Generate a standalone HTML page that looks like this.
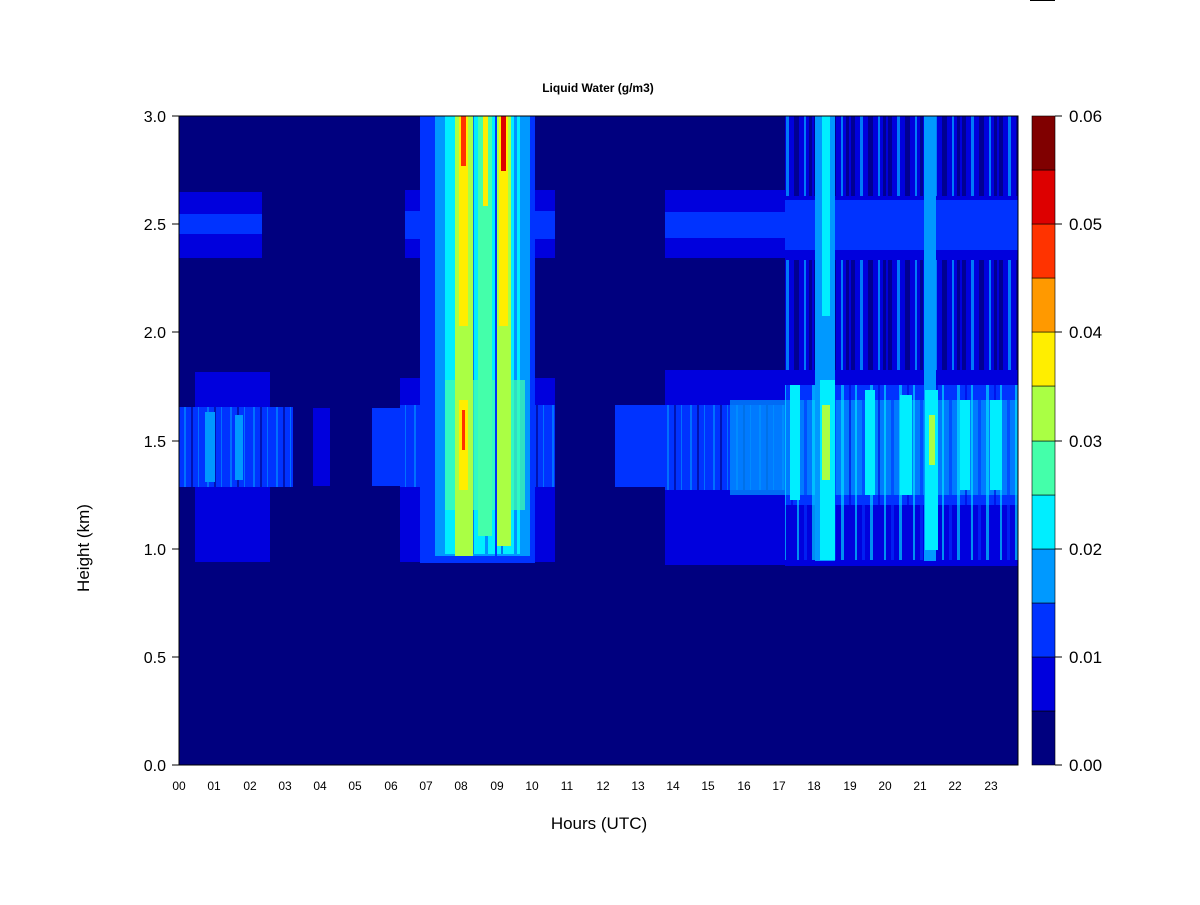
<!DOCTYPE html>
<html><head><meta charset="utf-8"><style>
body{margin:0;background:#fff;}
svg text{font-family:"Liberation Sans",Arial,sans-serif;}
</style></head><body>
<svg width="1200" height="900" viewBox="0 0 1200 900" xmlns="http://www.w3.org/2000/svg">
<defs>
<pattern id="st1" x="0" y="0" width="37" height="10" patternUnits="userSpaceOnUse">
<rect x="0" y="0" width="4" height="10" fill="#00007f"/>
<rect x="9" y="0" width="3" height="10" fill="#0099ff"/>
<rect x="17" y="0" width="5" height="10" fill="#00007f"/>
<rect x="27" y="0" width="2" height="10" fill="#0099ff"/>
<rect x="32" y="0" width="3" height="10" fill="#00007f"/>
</pattern>
<pattern id="st2" x="0" y="0" width="29" height="10" patternUnits="userSpaceOnUse">
<rect x="0" y="0" width="3" height="10" fill="#00eeff"/>
<rect x="8" y="0" width="2" height="10" fill="#0000dd"/>
<rect x="14" y="0" width="2" height="10" fill="#00eeff"/>
<rect x="21" y="0" width="3" height="10" fill="#0033ff"/>
</pattern>
<pattern id="st3" x="0" y="0" width="23" height="10" patternUnits="userSpaceOnUse">
<rect x="0" y="0" width="2" height="10" fill="#0099ff"/>
<rect x="7" y="0" width="2" height="10" fill="#00007f"/>
<rect x="14" y="0" width="1" height="10" fill="#0099ff"/>
</pattern>
</defs>
<rect width="1200" height="900" fill="#fff"/>
<rect x="1030" y="0" width="25" height="1" fill="#000"/>
<text x="598" y="92" font-size="12" font-weight="bold" text-anchor="middle">Liquid Water (g/m3)</text>
<clipPath id="c"><rect x="179" y="116" width="839" height="649"/></clipPath>
<g clip-path="url(#c)">
<rect x="179" y="116" width="839" height="649" fill="#00007f"/>
<!-- region A -->
<rect x="195" y="372" width="75" height="190" fill="#0000dd"/>
<rect x="179" y="407" width="114" height="80" fill="#0033ff"/>
<rect x="179" y="407" width="114" height="80" fill="url(#st3)" opacity="0.6"/>
<rect x="205" y="412" width="10" height="70" fill="#0099ff"/>
<rect x="235" y="415" width="8" height="65" fill="#0099ff"/>
<rect x="179" y="192" width="83" height="66" fill="#0000dd"/>
<rect x="179" y="214" width="83" height="20" fill="#0033ff"/>
<rect x="313" y="408" width="17" height="78" fill="#0000dd"/>
<!-- region B -->
<rect x="372" y="408" width="50" height="78" fill="#0033ff"/>
<rect x="400" y="378" width="155" height="184" fill="#0000dd"/>
<rect x="405" y="190" width="150" height="68" fill="#0000dd"/>
<rect x="405" y="211" width="150" height="28" fill="#0033ff"/>
<rect x="400" y="405" width="155" height="82" fill="#0033ff"/>
<rect x="400" y="405" width="155" height="82" fill="url(#st3)" opacity="0.6"/>
<rect x="420" y="116" width="115" height="447" fill="#0033ff"/>
<rect x="435" y="116" width="95" height="440" fill="#0099ff"/>
<rect x="445" y="116" width="75" height="438" fill="#00eeff"/>
<rect x="445" y="116" width="75" height="438" fill="url(#st2)" opacity="0.5"/>
<rect x="445" y="380" width="80" height="130" fill="#44ffaa" opacity="0.7"/>
<rect x="455" y="116" width="18" height="440" fill="#aaff44"/>
<rect x="478" y="116" width="14" height="420" fill="#44ffaa"/>
<rect x="497" y="116" width="14" height="430" fill="#aaff44"/>
<rect x="459" y="116" width="9" height="210" fill="#ffee00"/>
<rect x="459" y="400" width="9" height="90" fill="#ffee00"/>
<rect x="499" y="116" width="9" height="210" fill="#ffee00"/>
<rect x="483" y="116" width="5" height="90" fill="#ffee00"/>
<rect x="461" y="116" width="5" height="50" fill="#ff3300"/>
<rect x="501" y="116" width="5" height="55" fill="#dd0000"/>
<rect x="462" y="410" width="3" height="40" fill="#ff3300"/>
<rect x="495" y="116" width="2" height="440" fill="#0033ff"/>
<!-- region C -->
<rect x="615" y="405" width="403" height="82" fill="#0033ff"/>
<rect x="665" y="370" width="353" height="195" fill="#0000dd"/>
<rect x="665" y="405" width="353" height="85" fill="#0033ff"/>
<rect x="665" y="405" width="120" height="85" fill="url(#st3)" opacity="0.6"/>
<rect x="665" y="190" width="353" height="68" fill="#0000dd"/>
<rect x="665" y="212" width="353" height="26" fill="#0033ff"/>
<rect x="785" y="116" width="233" height="450" fill="#0000dd"/>
<rect x="785" y="116" width="233" height="80" fill="url(#st1)" opacity="0.8"/>
<rect x="785" y="260" width="233" height="110" fill="url(#st1)" opacity="0.8"/>
<rect x="785" y="200" width="233" height="50" fill="#0033ff"/>
<rect x="785" y="385" width="233" height="120" fill="#0033ff"/>
<rect x="730" y="400" width="288" height="95" fill="#0099ff" opacity="0.7"/>
<rect x="785" y="385" width="233" height="175" fill="url(#st2)" opacity="0.6"/>
<rect x="815" y="116" width="20" height="445" fill="#0099ff"/>
<rect x="924" y="116" width="12" height="445" fill="#0099ff"/>
<rect x="790" y="385" width="10" height="115" fill="#00eeff"/>
<rect x="820" y="380" width="15" height="180" fill="#00eeff"/>
<rect x="865" y="390" width="10" height="105" fill="#00eeff"/>
<rect x="900" y="395" width="12" height="100" fill="#00eeff"/>
<rect x="925" y="390" width="13" height="160" fill="#00eeff"/>
<rect x="960" y="400" width="10" height="90" fill="#00eeff"/>
<rect x="990" y="400" width="12" height="90" fill="#00eeff"/>
<rect x="822" y="405" width="8" height="75" fill="#aaff44"/>
<rect x="929" y="415" width="6" height="50" fill="#aaff44"/>
<rect x="822" y="116" width="8" height="200" fill="#00eeff"/>
</g>
<rect x="179" y="116" width="839" height="649" fill="none" stroke="#000" stroke-width="1"/>
<!-- y axis -->
<g font-size="16" text-anchor="end">
<text x="166" y="771">0.0</text><text x="166" y="663">0.5</text><text x="166" y="555">1.0</text>
<text x="166" y="447">1.5</text><text x="166" y="338">2.0</text><text x="166" y="230">2.5</text><text x="166" y="122">3.0</text>
</g>
<g stroke="#000"><line x1="172" y1="765" x2="179" y2="765"/><line x1="172" y1="657" x2="179" y2="657"/><line x1="172" y1="549" x2="179" y2="549"/><line x1="172" y1="441" x2="179" y2="441"/><line x1="172" y1="332" x2="179" y2="332"/><line x1="172" y1="224" x2="179" y2="224"/><line x1="172" y1="116" x2="179" y2="116"/></g>
<text x="89" y="548" font-size="17" text-anchor="middle" transform="rotate(-90 89 548)">Height (km)</text>
<!-- x axis -->
<g font-size="12" text-anchor="middle">
<text x="179" y="790">00</text><text x="214" y="790">01</text><text x="250" y="790">02</text><text x="285" y="790">03</text><text x="320" y="790">04</text><text x="355" y="790">05</text><text x="391" y="790">06</text><text x="426" y="790">07</text><text x="461" y="790">08</text><text x="497" y="790">09</text><text x="532" y="790">10</text><text x="567" y="790">11</text><text x="603" y="790">12</text><text x="638" y="790">13</text><text x="673" y="790">14</text><text x="708" y="790">15</text><text x="744" y="790">16</text><text x="779" y="790">17</text><text x="814" y="790">18</text><text x="850" y="790">19</text><text x="885" y="790">20</text><text x="920" y="790">21</text><text x="955" y="790">22</text><text x="991" y="790">23</text>
</g>
<text x="599" y="829" font-size="17" text-anchor="middle">Hours (UTC)</text>
<!-- colorbar -->
<g stroke="#000" stroke-width="0.6">
<rect x="1032" y="711" width="23" height="54" fill="#00007f"/>
<rect x="1032" y="657" width="23" height="54" fill="#0000dd"/>
<rect x="1032" y="603" width="23" height="54" fill="#0033ff"/>
<rect x="1032" y="549" width="23" height="54" fill="#0099ff"/>
<rect x="1032" y="495" width="23" height="54" fill="#00eeff"/>
<rect x="1032" y="441" width="23" height="54" fill="#44ffaa"/>
<rect x="1032" y="386" width="23" height="55" fill="#aaff44"/>
<rect x="1032" y="332" width="23" height="54" fill="#ffee00"/>
<rect x="1032" y="278" width="23" height="54" fill="#ff9900"/>
<rect x="1032" y="224" width="23" height="54" fill="#ff3300"/>
<rect x="1032" y="170" width="23" height="54" fill="#dd0000"/>
<rect x="1032" y="116" width="23" height="54" fill="#800000"/>
</g>
<g stroke="#000"><line x1="1055" y1="765" x2="1062" y2="765"/><line x1="1055" y1="657" x2="1062" y2="657"/><line x1="1055" y1="549" x2="1062" y2="549"/><line x1="1055" y1="441" x2="1062" y2="441"/><line x1="1055" y1="332" x2="1062" y2="332"/><line x1="1055" y1="224" x2="1062" y2="224"/><line x1="1055" y1="116" x2="1062" y2="116"/></g>
<g font-size="17">
<text x="1069" y="771">0.00</text><text x="1069" y="663">0.01</text><text x="1069" y="555">0.02</text><text x="1069" y="447">0.03</text><text x="1069" y="338">0.04</text><text x="1069" y="230">0.05</text><text x="1069" y="122">0.06</text>
</g>
</svg>
</body></html>
